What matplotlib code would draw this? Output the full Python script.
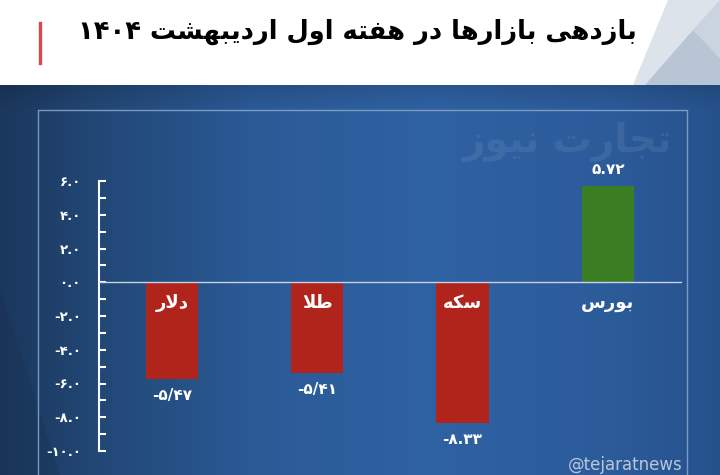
import re
import numpy as np
import matplotlib
matplotlib.use("Agg")
import matplotlib.pyplot as plt
from matplotlib.patches import Polygon, Rectangle
from matplotlib.lines import Line2D

# ---------------- data ----------------
categories = ["دلار", "طلا", "سکه", "بورس"]
values = [-5.72, -5.38, -8.33, 5.70]
value_labels = ["-۵/۴۷", "-۵/۴۱", "-۸.۳۳", "۵.۷۲"]
bar_colors = ["#b0241b", "#b0241b", "#b0241b", "#3a7d23"]
yticks = [-10, -8, -6, -4, -2, 0, 2, 4, 6]
ytick_labels = ["-۱۰.۰", "-۸.۰", "-۶.۰", "-۴.۰", "-۲.۰", "۰.۰", "۲.۰", "۴.۰", "۶.۰"]
minor_ticks = [-9, -7, -5, -3, -1, 1, 3, 5]
title = "بازدهی بازارها در هفته اول اردیبهشت ۱۴۰۴"
watermark = "تجارت نیوز"
handle = "@tejaratnews"

# ---------------- Arabic/Persian shaping (presentation forms) ----------------
FORMS = {
    '\u0627': ('\uFE8D', '\uFE8E', None, None),
    '\u0622': ('\uFE81', '\uFE82', None, None),
    '\u0628': ('\uFE8F', '\uFE90', '\uFE91', '\uFE92'),
    '\u062A': ('\uFE95', '\uFE96', '\uFE97', '\uFE98'),
    '\u062C': ('\uFE9D', '\uFE9E', '\uFE9F', '\uFEA0'),
    '\u062F': ('\uFEA9', '\uFEAA', None, None),
    '\u0631': ('\uFEAD', '\uFEAE', None, None),
    '\u0632': ('\uFEAF', '\uFEB0', None, None),
    '\u0633': ('\uFEB1', '\uFEB2', '\uFEB3', '\uFEB4'),
    '\u0634': ('\uFEB5', '\uFEB6', '\uFEB7', '\uFEB8'),
    '\u0637': ('\uFEC1', '\uFEC2', '\uFEC3', '\uFEC4'),
    '\u0641': ('\uFED1', '\uFED2', '\uFED3', '\uFED4'),
    '\u0644': ('\uFEDD', '\uFEDE', '\uFEDF', '\uFEE0'),
    '\u0646': ('\uFEE5', '\uFEE6', '\uFEE7', '\uFEE8'),
    '\u0647': ('\uFEE9', '\uFEEA', '\uFEEB', '\uFEEC'),
    '\u0648': ('\uFEED', '\uFEEE', None, None),
    '\u06A9': ('\uFB8E', '\uFB8F', '\uFB90', '\uFB91'),
    '\u06CC': ('\uFBFC', '\uFBFD', '\uFBFE', '\uFBFF'),
}


def shape(text):
    chars = list(text)
    n = len(chars)
    res = []
    i = 0
    while i < n:
        c = chars[i]
        if c not in FORMS:
            res.append(c)
            i += 1
            continue
        prev = chars[i - 1] if i > 0 else None
        jp = prev is not None and prev in FORMS and FORMS[prev][2] is not None
        if c == '\u0644' and i + 1 < n and chars[i + 1] == '\u0627':
            res.append('\uFEFC' if jp else '\uFEFB')
            i += 2
            continue
        nxt = chars[i + 1] if i + 1 < n else None
        f = FORMS[c]
        jn = f[2] is not None and nxt is not None and nxt in FORMS
        if jp and jn:
            g = f[3]
        elif jp:
            g = f[1]
        elif jn:
            g = f[2]
        else:
            g = f[0]
        res.append(g)
        i += 1
    s = ''.join(res)[::-1]
    s = re.sub(r'[0-9\u06F0-\u06F9./]+', lambda m: m.group(0)[::-1], s)
    return s


plt.rcParams['font.family'] = ['DejaVu Sans']

W, H = 720, 475
fig = plt.figure(figsize=(7.2, 4.75), dpi=100)

# ---------------- background ----------------
bg = fig.add_axes([0, 0, 1, 1])
bg.set_xlim(0, W)
bg.set_ylim(H, 0)
bg.axis('off')

xs = np.linspace(0, 1, W)
stops_x = [0.0, 0.12, 0.35, 0.6, 0.85, 1.0]
stops_c = np.array([[27, 55, 92], [33, 70, 115], [43, 90, 150], [47, 98, 163],
                    [44, 91, 154], [38, 82, 140]]) / 255.0
row = np.stack([np.interp(xs, stops_x, stops_c[:, k]) for k in range(3)], axis=1)
img = np.repeat(row[None, :, :], H, axis=0)
ys = np.arange(H)
shade = 1 - 0.12 * np.clip(1 - (ys - 85) / 25.0, 0, 1)
img = img * shade[:, None, None]
bg.imshow(np.clip(img, 0, 1), extent=(0, W, H, 0), aspect='auto', zorder=0)

# subtle diagonal darker region at bottom left
bg.add_patch(Polygon([(0, 290), (60, 475), (0, 475)], closed=True,
                     facecolor='#16304f', alpha=0.3, lw=0, zorder=1))

# white header
bg.add_patch(Rectangle((0, 0), W, 85, facecolor='white', lw=0, zorder=2))
bg.add_patch(Polygon([(633, 85), (668, 0), (720, 0), (720, 85)], closed=True,
                     facecolor='#dde3ea', lw=0, zorder=3))
bg.add_patch(Polygon([(645, 85), (693, 30), (720, 58), (720, 85)], closed=True,
                     facecolor='#b8c5d4', lw=0, zorder=3))
bg.add_patch(Polygon([(693, 30), (720, 0), (720, 58)], closed=True,
                     facecolor='#c9d4e0', lw=0, zorder=3))
# red accent line
bg.add_line(Line2D([39.5, 39.5], [23, 63], color='#d9474c', lw=2.4, zorder=4))
# title
bg.text(637, 32, shape(title), ha='right', va='center', fontsize=18.5,
        fontweight='bold', color='black', zorder=5)

# frame lines
bg.add_line(Line2D([38, 38, 687, 687], [H, 110, 110, H], color='#86a2c8',
                   lw=1.0, alpha=0.9, zorder=3))

# watermark
bg.text(567, 142, shape(watermark), ha='center', va='center', fontsize=28,
        fontweight='bold', color='white', alpha=0.08, zorder=3)
# handle
bg.text(625, 474, handle, ha='center', va='bottom', fontsize=12,
        color='#b9c7dc', zorder=3)

# ---------------- chart ----------------
ax = fig.add_axes([99 / W, (H - 451) / H, 583 / W, 270 / H])
ax.set_facecolor('none')
ax.set_xlim(-0.502, 3.51)
ax.set_ylim(-10, 6)
x = np.arange(len(categories))
ax.bar(x, values, width=0.36, color=bar_colors, zorder=2)
ax.axhline(0, color='#c5d3e6', lw=1.0, zorder=3)

for s in ['top', 'right', 'bottom']:
    ax.spines[s].set_visible(False)
ax.spines['left'].set_color('white')
ax.spines['left'].set_linewidth(1.5)
ax.set_xticks([])
ax.set_yticks(yticks)
ax.set_yticklabels(ytick_labels)
ax.set_yticks(minor_ticks, minor=True)
ax.tick_params(axis='y', which='both', direction='in', length=5, width=1.5,
               colors='white', pad=13, labelsize=9.5)
for lab in ax.get_yticklabels():
    lab.set_fontweight('bold')

for i, (v, cat, vl) in enumerate(zip(values, categories, value_labels)):
    ax.text(i, -1.25, shape(cat), ha='center', va='center', fontsize=13,
            fontweight='bold', color='white', zorder=4)
    off = -12 if v < 0 else 12
    ax.annotate(vl, (i, v), xytext=(0, off), textcoords='offset points',
                ha='center', va='center', fontsize=11, fontweight='bold',
                color='white')

fig.savefig('out.png', dpi=100)
